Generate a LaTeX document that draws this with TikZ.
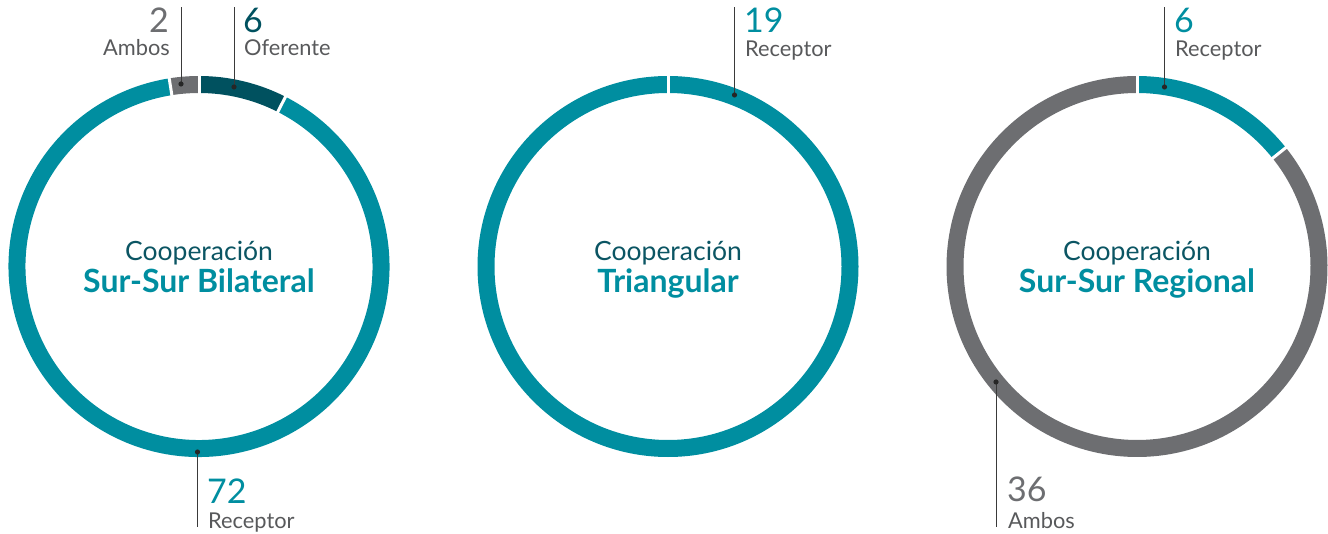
\documentclass[tikz,border=0pt]{standalone}
\usepackage{fontspec}
\setmainfont{Lato}
\definecolor{teal1}{HTML}{008EA0}
\definecolor{darkteal}{HTML}{00515F}
\definecolor{segray}{HTML}{6D6E71}
\definecolor{txtgray}{HTML}{58595B}
\definecolor{leader}{HTML}{3A3A3A}
\definecolor{titledark}{HTML}{0B5563}
\tikzset{
  band/.style={line width=17pt},
  gapline/.style={white, line width=3pt},
  leaderline/.style={leader, line width=0.9pt},
  dotmark/.style={fill=black!85},
  numtext/.style={font=\fontsize{34}{36}\selectfont, inner sep=0pt},
  labtext/.style={font=\fontsize{21.8}{24}\selectfont, text=txtgray, inner sep=0pt},
  toptitle/.style={font=\fontsize{26.5}{28}\selectfont, text=titledark, inner sep=0pt, anchor=base},
  maintitle/.style={font=\fontsize{32}{34}\selectfont\bfseries, text=teal1, inner sep=0pt, anchor=base},
}
\begin{document}
\begin{tikzpicture}[x=1pt,y=1pt]
\useasboundingbox (0,0) rectangle (1328,533);
\def\R{182}
\coordinate (c1) at (199,266.5);
\coordinate (c2) at (668,266.5);
\coordinate (c3) at (1137,266.5);

% Ring 1
\draw[band, darkteal] (c1) ++(90:\R) arc[start angle=90, end angle=63, radius=\R];
\draw[band, teal1] (c1) ++(63:\R) arc[start angle=63, end angle=-261, radius=\R];
\draw[band, segray] (c1) ++(99:\R) arc[start angle=99, end angle=90, radius=\R];
\foreach \a in {90,63,99} \draw[gapline] (c1) ++(\a:171) -- ++(\a:22);

% Ring 2
\draw[band, teal1] (c2) circle[radius=\R];
\draw[gapline] (c2) ++(90:171) -- ++(90:22);

% Ring 3
\draw[band, teal1] (c3) ++(90:\R) arc[start angle=90, end angle=38.6, radius=\R];
\draw[band, segray] (c3) ++(38.6:\R) arc[start angle=38.6, end angle=-270, radius=\R];
\foreach \a in {90,38.6} \draw[gapline] (c3) ++(\a:171) -- ++(\a:22);

% Center titles
\node[toptitle] (t1a) at (199,272) {Cooperación};
\node[maintitle] (t1b) at (199,240) {Sur-Sur Bilateral};
\node[toptitle] (t2a) at (668,272) {Cooperación};
\node[maintitle] (t2b) at (668,240) {Triangular};
\node[toptitle] (t3a) at (1137,272) {Cooperación};
\node[maintitle] (t3b) at (1137,240) {Sur-Sur Regional};

% Leaders ring 1
\coordinate (d1a) at (181,449);   \coordinate (e1a) at (181,526);
\coordinate (d1o) at (234,446);   \coordinate (e1o) at (234,526);
\coordinate (d1r) at (197.5,81);  \coordinate (e1r) at (197.5,6);
\draw[leaderline] (d1a) -- (e1a);
\draw[leaderline] (d1o) -- (e1o);
\draw[leaderline] (d1r) -- (e1r);
\fill[dotmark] (d1a) circle[radius=2.6];
\fill[dotmark] (d1o) circle[radius=2.6];
\fill[dotmark] (d1r) circle[radius=2.6];
\node[numtext, text=segray, anchor=base east] (n1a) at (169,500) {2};
\node[labtext, anchor=base east] (l1a) at (170,477) {Ambos};
\node[numtext, text=darkteal, anchor=base west] (n1o) at (243,500) {6};
\node[labtext, anchor=base west] (l1o) at (244,477) {Oferente};
\node[numtext, text=teal1, anchor=base west] (n1r) at (207,30) {72};
\node[labtext, anchor=base west] (l1r) at (208,5) {Receptor};

% Leaders ring 2
\coordinate (d2r) at (734.5,438); \coordinate (e2r) at (734.5,526);
\draw[leaderline] (d2r) -- (e2r);
\fill[dotmark] (d2r) circle[radius=2.6];
\node[numtext, text=teal1, anchor=base west] (n2r) at (744,500) {19};
\node[labtext, anchor=base west] (l2r) at (745,476) {Receptor};

% Leaders ring 3
\coordinate (d3r) at (1164.5,446); \coordinate (e3r) at (1164.5,526);
\coordinate (d3a) at (996,151);    \coordinate (e3a) at (996,6);
\draw[leaderline] (d3r) -- (e3r);
\draw[leaderline] (d3a) -- (e3a);
\fill[dotmark] (d3r) circle[radius=2.6];
\fill[dotmark] (d3a) circle[radius=2.6];
\node[numtext, text=teal1, anchor=base west] (n3r) at (1174,500) {6};
\node[labtext, anchor=base west] (l3r) at (1175,476) {Receptor};
\node[numtext, text=segray, anchor=base west] (n3a) at (1007,31) {36};
\node[labtext, anchor=base west] (l3a) at (1008,5) {Ambos};
\end{tikzpicture}
\end{document}
